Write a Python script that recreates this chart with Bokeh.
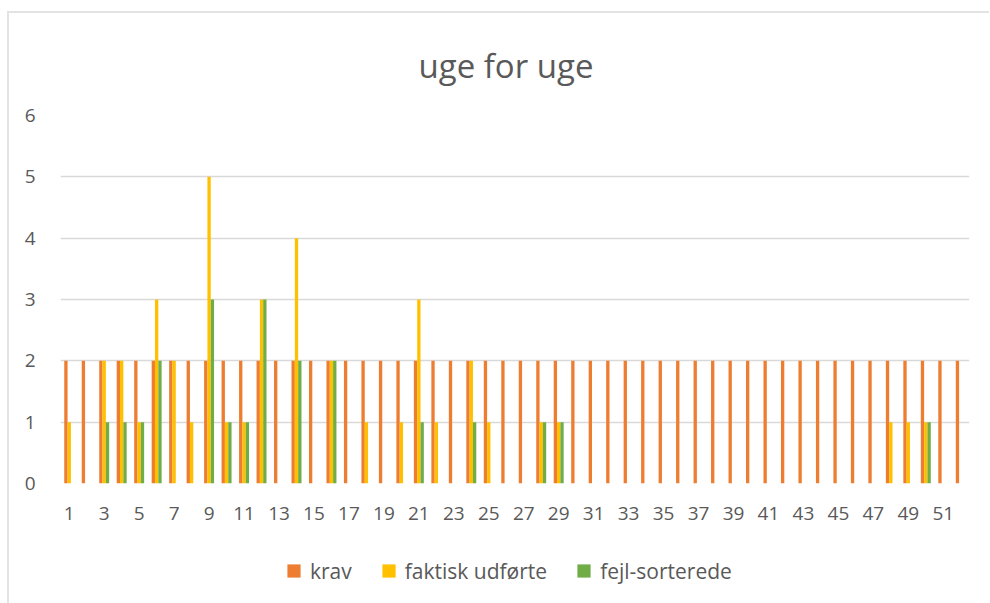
from bokeh.plotting import figure
from bokeh.layouts import column
from bokeh.models import Range1d, FixedTicker, Legend, LegendItem, ColumnDataSource
from bokeh.embed import file_html
from bokeh.resources import INLINE

weeks = list(range(1, 53))
krav = [2, 2, 2, 2, 2, 2, 2, 2, 2, 2, 2, 2, 2, 2, 2, 2, 2, 2, 2, 2, 2, 2, 2, 2, 2, 2,
        2, 2, 2, 2, 2, 2, 2, 2, 2, 2, 2, 2, 2, 2, 2, 2, 2, 2, 2, 2, 2, 2, 2, 2, 2, 2]
faktisk = [1, 0, 2, 2, 1, 3, 2, 1, 5, 1, 1, 3, 0, 4, 0, 2, 0, 1, 0, 1, 3, 1, 0, 2, 1, 0,
           0, 1, 1, 0, 0, 0, 0, 0, 0, 0, 0, 0, 0, 0, 0, 0, 0, 0, 0, 0, 0, 1, 1, 1, 0, 0]
fejl = [0, 0, 1, 1, 1, 2, 0, 0, 3, 1, 1, 3, 0, 2, 0, 2, 0, 0, 0, 0, 1, 0, 0, 1, 0, 0,
        0, 1, 1, 0, 0, 0, 0, 0, 0, 0, 0, 0, 0, 0, 0, 0, 0, 0, 0, 0, 0, 0, 0, 1, 0, 0]
series_names = ["krav", "faktisk udførte", "fejl-sorterede"]
colors = ["#ED7D31", "#FFC000", "#70AD47"]
x_ticks = [1, 3, 5, 7, 9, 11, 13, 15, 17, 19, 21, 23, 25, 27, 29, 31, 33, 35, 37, 39,
           41, 43, 45, 47, 49, 51]
y_ticks = [0, 1, 2, 3, 4, 5, 6]

FONT = "Open Sans"
TXT = "#595959"

p = figure(width=980, height=522, output_backend="svg", toolbar_location=None,
           x_range=Range1d(0.5, 52.5), y_range=Range1d(0, 6),
           title="uge for uge")
p.frame_width = 909
p.frame_height = 368
p.min_border_left = 51
p.min_border_right = 20
p.min_border_top = 100
p.min_border_bottom = 54
p.outline_line_color = None
p.background_fill_color = "white"
p.border_fill_color = "white"

p.title.align = "left"
p.title.offset = 358
p.title.text_font = FONT
p.title.text_font_size = "33px"
p.title.text_font_style = "normal"
p.title.text_color = TXT
p.title.standoff = 55

bw = 0.19
offsets = [-bw, 0.0, bw]
sources = []
for vals, off in zip([krav, faktisk, fejl], offsets):
    sources.append(ColumnDataSource(dict(x=[w + off for w in weeks], top=vals)))

for src, col in zip(sources, colors):
    p.vbar(x="x", top="top", width=bw, source=src, fill_color=col, line_color=None)

p.xaxis.ticker = FixedTicker(ticks=x_ticks)
p.yaxis.ticker = FixedTicker(ticks=y_ticks)
for ax in (p.xaxis, p.yaxis):
    ax.axis_line_color = None
    ax.major_tick_line_color = None
    ax.minor_tick_line_color = None
    ax.major_label_text_font = FONT
    ax.major_label_text_font_size = "19px"
    ax.major_label_text_color = TXT
p.xaxis.major_label_standoff = 17
p.yaxis.major_label_standoff = 19

p.xgrid.grid_line_color = None
p.ygrid.ticker = FixedTicker(ticks=y_ticks)
p.ygrid.grid_line_color = "#D9D9D9"
p.ygrid.grid_line_width = 1.5

# legend strip below the chart (same series, viewed outside their range so only the key shows)
pl = figure(width=980, height=66, output_backend="svg", toolbar_location=None,
            x_range=Range1d(100, 101), y_range=Range1d(0, 1),
            x_axis_location=None, y_axis_location=None, min_border=0)
pl.outline_line_color = None
pl.grid.visible = False
key_renderers = []
for src, col in zip(sources, colors):
    d = pl.scatter(x="x", y="top", marker="square", size=13, source=src,
                   fill_color=col, line_color=None)
    key_renderers.append(d)

legend = Legend(items=[LegendItem(label=n, renderers=[d], index=0)
                       for n, d in zip(series_names, key_renderers)],
                orientation="horizontal", location=(217, 16))
legend.label_text_font = FONT
legend.label_text_font_size = "21px"
legend.label_text_color = TXT
legend.glyph_width = 33
legend.glyph_height = 33
legend.label_standoff = 0
legend.spacing = 20
legend.padding = 4
legend.margin = 0
legend.border_line_color = None
legend.background_fill_alpha = 0
pl.add_layout(legend, "center")

layout = column(p, pl, spacing=0)
layout.margin = (11, 0, 0, 7)
layout.styles = {"border-left": "2px solid #e3e3e3", "border-top": "2px solid #e3e3e3"}

open("out.html", "w").write(file_html(layout, INLINE))
